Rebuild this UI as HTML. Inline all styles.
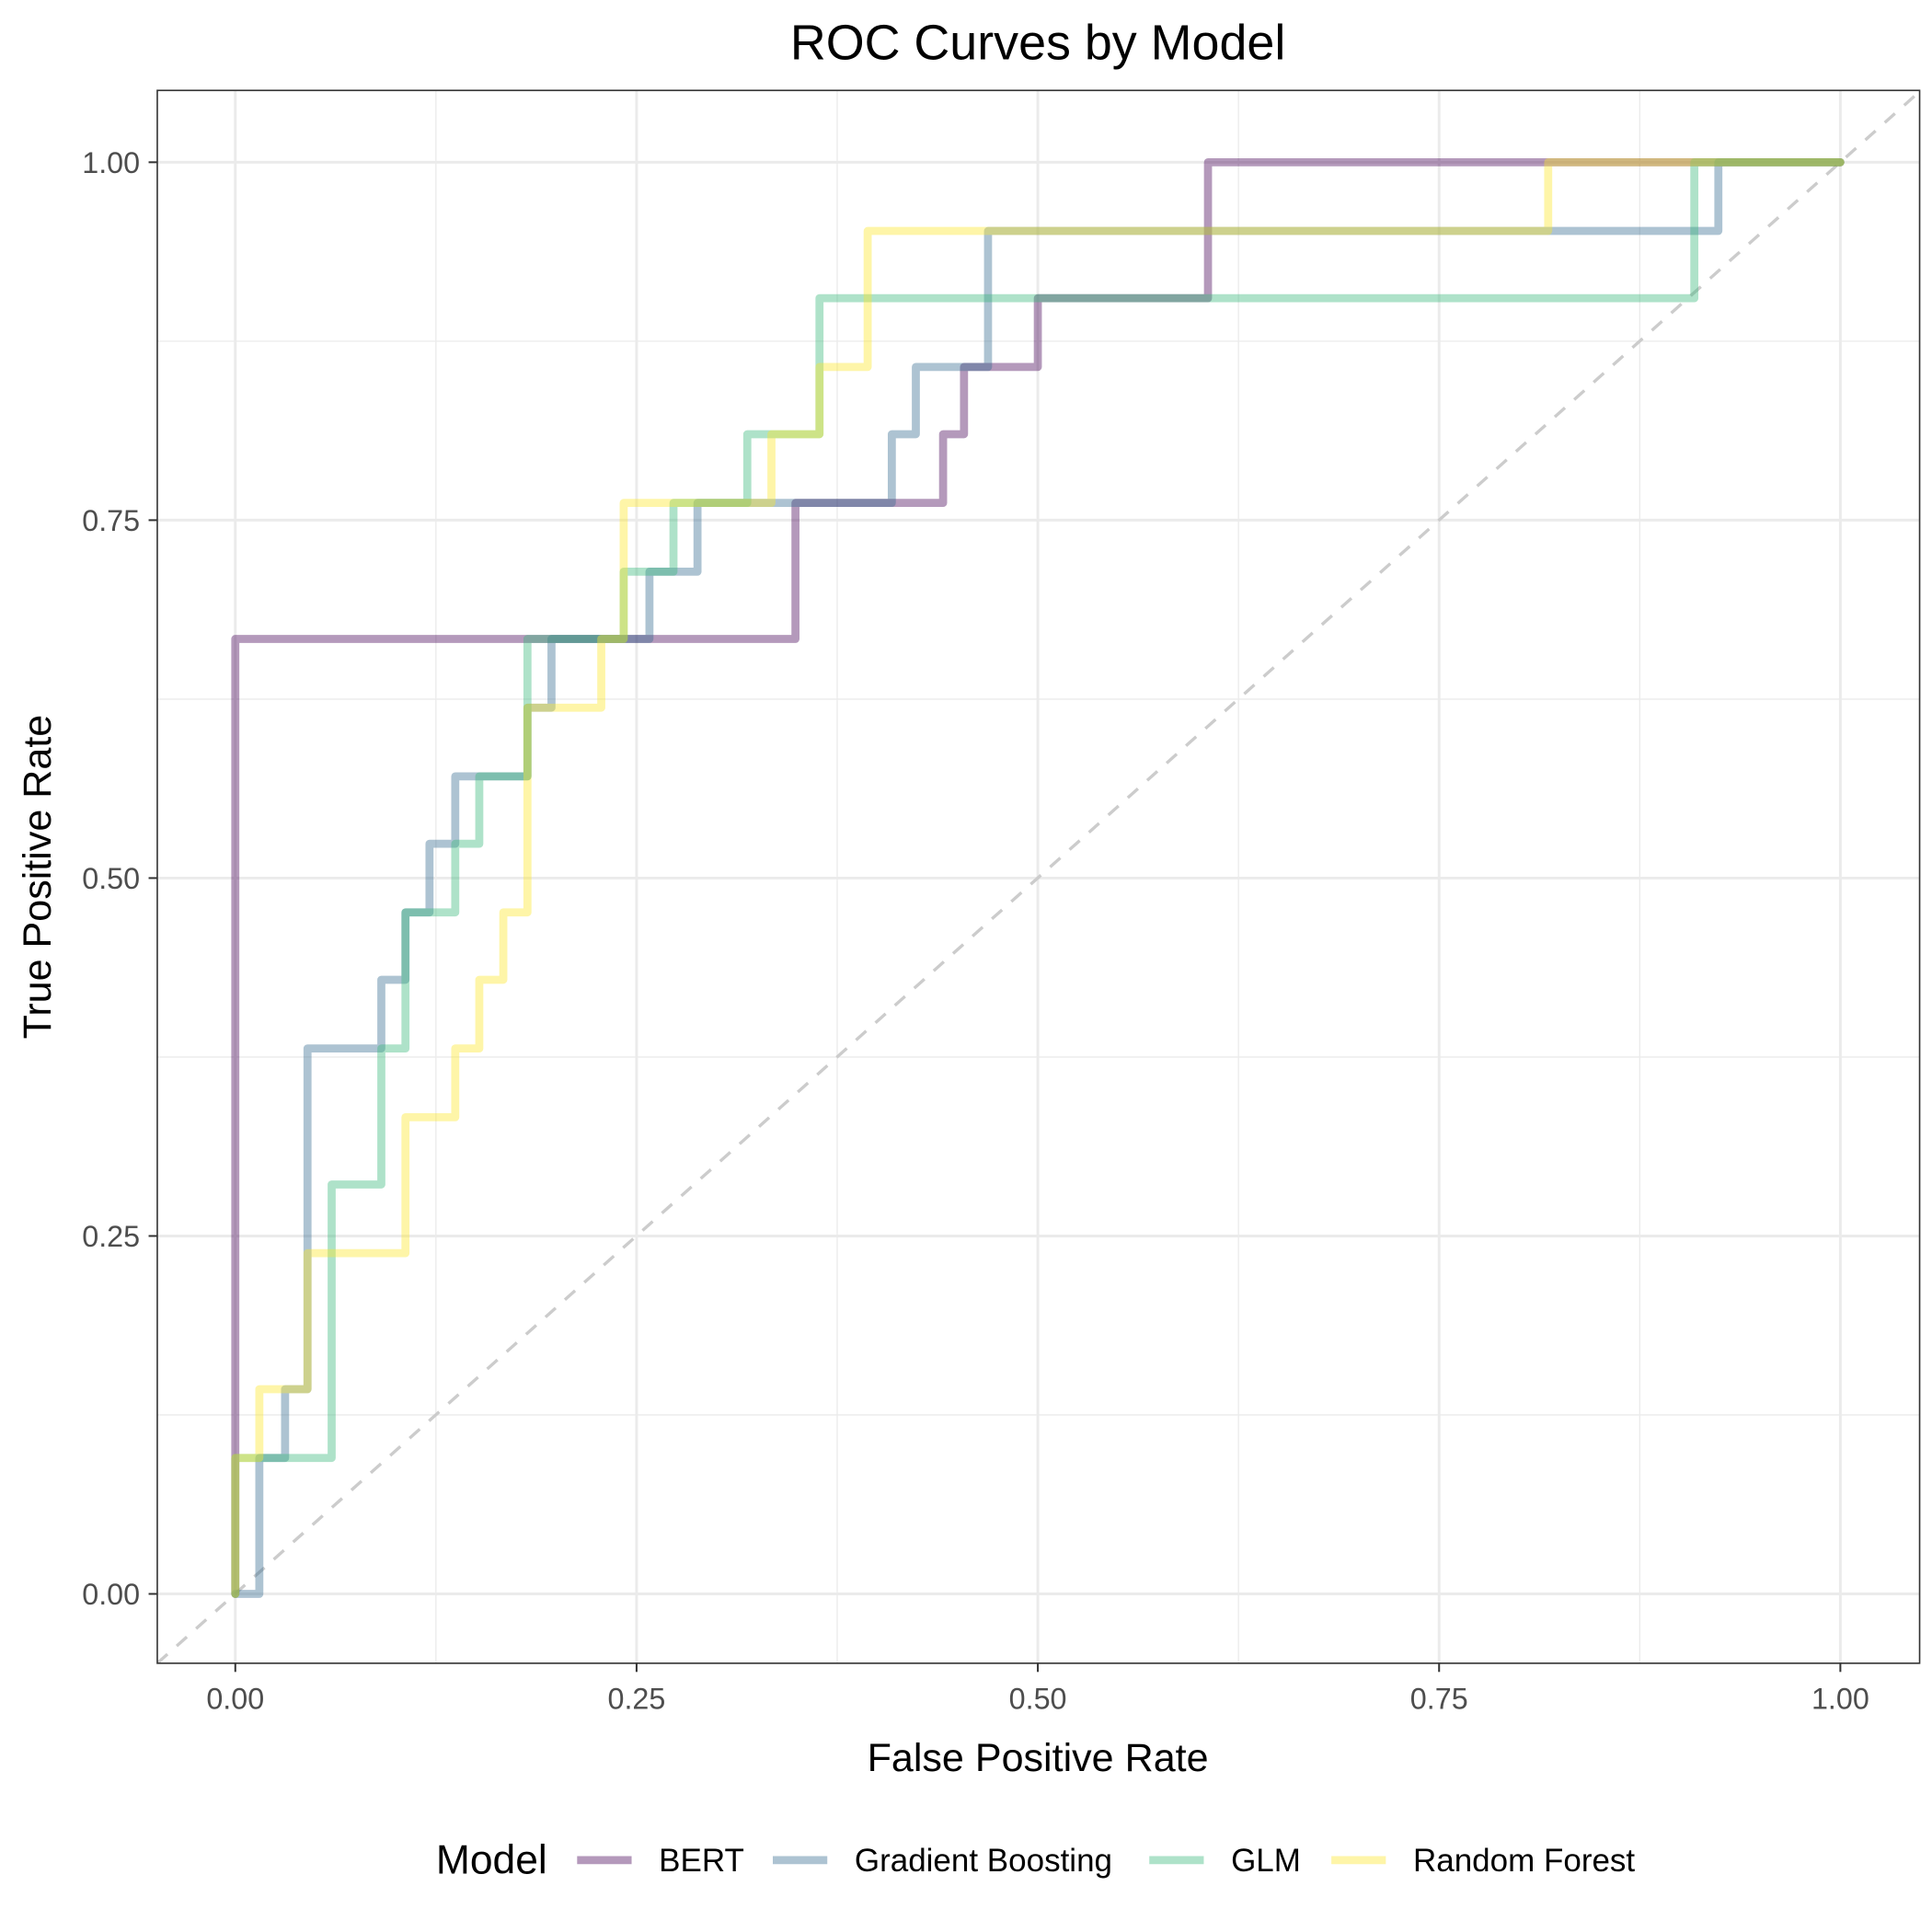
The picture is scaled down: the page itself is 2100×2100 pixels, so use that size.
<!DOCTYPE html>
<html><head><meta charset="utf-8"><style>
html,body{margin:0;padding:0;background:#fff;}
svg{display:block;font-family:"Liberation Sans",sans-serif;}
</style></head><body>
<svg id="chart" width="2100" height="2100" viewBox="0 0 1560 1560" xmlns="http://www.w3.org/2000/svg">
<rect x="0" y="0" width="1560" height="1560" fill="#fff"/>
<text x="838" y="48" font-size="40" text-anchor="middle" fill="#000">ROC Curves by Model</text>
<g id="grid"></g>
<g id="diag"></g>
<g id="series"></g>
<rect x="127" y="73" width="1423" height="1270" fill="none" stroke="#333" stroke-width="1.2"/>
<g id="axes"></g>
<text x="838" y="1430" font-size="32" text-anchor="middle" fill="#000">False Positive Rate</text>
<text transform="translate(41,708) rotate(-90)" font-size="32" text-anchor="middle" fill="#000">True Positive Rate</text>
<g id="legend"></g>
</svg>
<script>
const modelNames = ["BERT", "Gradient Boosting", "GLM", "Random Forest"];
const modelColors = ["#440154", "#31688E", "#35B779", "#FDE725"];
const bertFpr = [0, 0, 0.349, 0.349, 0.441, 0.441, 0.454, 0.454, 0.5, 0.5, 0.606, 0.606, 1];
const bertTpr = [0, 0.667, 0.667, 0.762, 0.762, 0.81, 0.81, 0.857, 0.857, 0.905, 0.905, 1, 1];
const gbFpr = [0, 0.015, 0.015, 0.031, 0.031, 0.045, 0.045, 0.091, 0.091, 0.106, 0.106, 0.121, 0.121, 0.137, 0.137, 0.182, 0.182, 0.197, 0.197, 0.258, 0.258, 0.288, 0.288, 0.409, 0.409, 0.424, 0.424, 0.469, 0.469, 0.924, 0.924, 1];
const gbTpr = [0, 0, 0.095, 0.095, 0.143, 0.143, 0.381, 0.381, 0.429, 0.429, 0.476, 0.476, 0.524, 0.524, 0.571, 0.571, 0.619, 0.619, 0.667, 0.667, 0.714, 0.714, 0.762, 0.762, 0.81, 0.81, 0.857, 0.857, 0.952, 0.952, 1, 1];
const glmFpr = [0, 0, 0.06, 0.06, 0.091, 0.091, 0.106, 0.106, 0.137, 0.137, 0.152, 0.152, 0.182, 0.182, 0.242, 0.242, 0.273, 0.273, 0.319, 0.319, 0.364, 0.364, 0.909, 0.909, 1];
const glmTpr = [0, 0.095, 0.095, 0.286, 0.286, 0.381, 0.381, 0.476, 0.476, 0.524, 0.524, 0.571, 0.571, 0.667, 0.667, 0.714, 0.714, 0.762, 0.762, 0.81, 0.81, 0.905, 0.905, 1, 1];
const rfFpr = [0, 0, 0.015, 0.015, 0.045, 0.045, 0.106, 0.106, 0.137, 0.137, 0.152, 0.152, 0.167, 0.167, 0.182, 0.182, 0.228, 0.228, 0.242, 0.242, 0.334, 0.334, 0.364, 0.364, 0.394, 0.394, 0.818, 0.818, 1];
const rfTpr = [0, 0.095, 0.095, 0.143, 0.143, 0.238, 0.238, 0.333, 0.333, 0.381, 0.381, 0.429, 0.429, 0.476, 0.476, 0.619, 0.619, 0.667, 0.667, 0.762, 0.762, 0.81, 0.81, 0.857, 0.857, 0.952, 0.952, 1, 1];
const xTicks = [0, 0.25, 0.5, 0.75, 1];
const xTickLabels = ["0.00", "0.25", "0.50", "0.75", "1.00"];
const yTicks = [0, 0.25, 0.5, 0.75, 1];
const yTickLabels = ["0.00", "0.25", "0.50", "0.75", "1.00"];

const NS = "http://www.w3.org/2000/svg";
const X0 = 190, X1 = 1486, Y0 = 1287, Y1 = 131;
function sx(v){ return X0 + (X1 - X0) * v; }
function sy(v){ return Y0 + (Y1 - Y0) * v; }
function mk(tag, attrs, parent){ const e = document.createElementNS(NS, tag); for (const k in attrs) e.setAttribute(k, attrs[k]); parent.appendChild(e); return e; }

const grid = document.getElementById("grid");
for (let i = 0; i < 4; i++) {
  const v = xTicks[i] + 0.125;
  const l = mk("line", {x1: sx(v), x2: sx(v), y1: 73, y2: 1343, stroke: "#ebebeb", "stroke-width": 1}, grid);
  
  
  const h = mk("line", {x1: 127, x2: 1550, y1: sy(yTicks[i] + 0.125), y2: sy(yTicks[i] + 0.125), stroke: "#ebebeb", "stroke-width": 1}, grid);
  
  
}
xTicks.forEach(v => {
  const l = mk("line", {x1: sx(v), x2: sx(v), y1: 73, y2: 1343, stroke: "#ebebeb", "stroke-width": 2.2}, grid);
  
  
});
yTicks.forEach(v => {
  const l = mk("line", {x1: 127, x2: 1550, y1: sy(v), y2: sy(v), stroke: "#ebebeb", "stroke-width": 2.2}, grid);
  
  
});

const diag = document.getElementById("diag");
const dl = mk("line", {x1: 127, y1: 1343, x2: sx(1.05), y2: sy(1.05), stroke: "#cccccc", "stroke-width": 2.5, "stroke-dasharray": "11,10"}, diag);


const clipR = mk("clipPath", {id: "clip"}, diag);
mk("rect", {x: 127, y: 73, width: 1423, height: 1270}, clipR);
dl.setAttribute("clip-path", "url(#clip)");

const seriesData = [[bertFpr, bertTpr], [gbFpr, gbTpr], [glmFpr, glmTpr], [rfFpr, rfTpr]];
const seriesNames = ["bert-roc-curve", "gradient-boosting-roc-curve", "glm-roc-curve", "random-forest-roc-curve"];
const sg = document.getElementById("series");
seriesData.forEach((s, i) => {
  const pts = s[0].map((x, j) => sx(x).toFixed(1) + "," + sy(s[1][j]).toFixed(1)).join(" ");
  const p = mk("polyline", {points: pts, fill: "none", stroke: modelColors[i], "stroke-opacity": 0.4, "stroke-width": 6.5, "stroke-linejoin": "round", "stroke-linecap": "round"}, sg);
  
  
});

const ax = document.getElementById("axes");
xTicks.forEach((v, i) => {
  const t = mk("line", {x1: sx(v), x2: sx(v), y1: 1343, y2: 1350, stroke: "#333", "stroke-width": 1.5}, ax);
  
  
  const tx = mk("text", {x: sx(v), y: 1380, "font-size": 24, "text-anchor": "middle", fill: "#4d4d4d"}, ax);
  tx.textContent = xTickLabels[i];
  
  
});
yTicks.forEach((v, i) => {
  const t = mk("line", {x1: 120, x2: 127, y1: sy(v), y2: sy(v), stroke: "#333", "stroke-width": 1.5}, ax);
  
  
  const tx = mk("text", {x: 113, y: sy(v) + 8.5, "font-size": 24, "text-anchor": "end", fill: "#4d4d4d"}, ax);
  tx.textContent = yTickLabels[i];
  
  
});

const lg = document.getElementById("legend");
const lt = mk("text", {x: 352, y: 1513, "font-size": 33, fill: "#000"}, lg);
lt.textContent = "Model";


const keyX = [466, 624, 928, 1075];
modelNames.forEach((n, i) => {
  const k = mk("line", {x1: keyX[i], x2: keyX[i] + 44, y1: 1502, y2: 1502, stroke: modelColors[i], "stroke-opacity": 0.4, "stroke-width": 6.5}, lg);
  
  
  const t = mk("text", {x: keyX[i] + 66, y: 1511, "font-size": 26, fill: "#000"}, lg);
  t.textContent = n;
  
  
});
</script>
</body></html>
